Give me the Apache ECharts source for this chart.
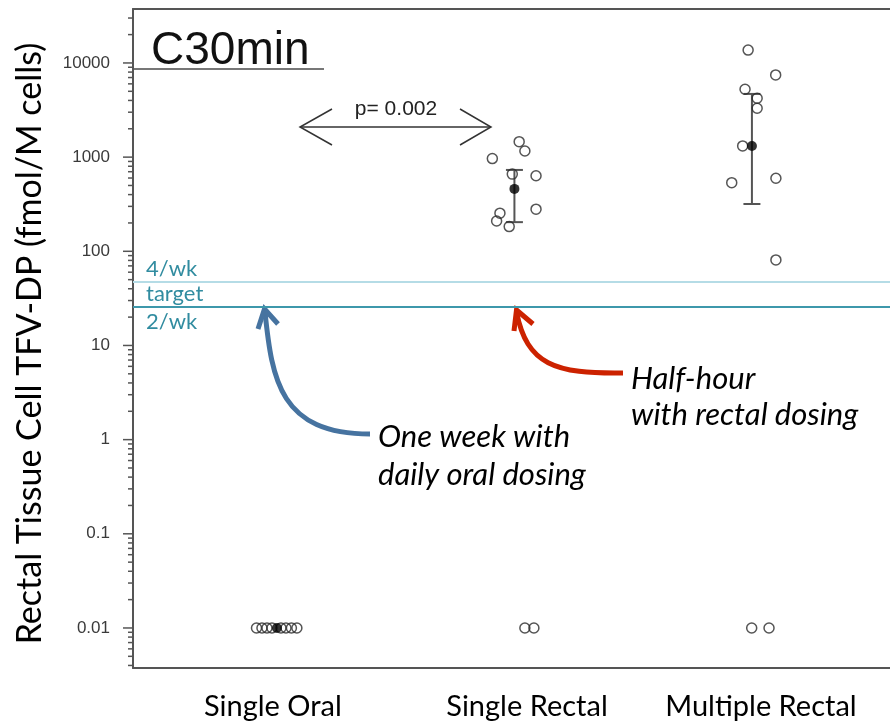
<!DOCTYPE html>
<html>
<head>
<meta charset="utf-8">
<script src="https://cdn.jsdelivr.net/npm/echarts@6/dist/echarts.min.js"></script>
<style>
html,body{margin:0;padding:0;background:#fff;overflow:hidden;}
#c{width:910px;height:724px;}
</style>
</head>
<body>
<div id="c"></div>
<script>
// ---------- data ----------
const categories = ['Single Oral', 'Single Rectal', 'Multiple Rectal'];
// horizontal jitter of each observation relative to its group (group index 1,2,3)
const singleOralJitter = [-0.086, -0.063, -0.042, -0.021, 0.017, 0.038, 0.061, 0.084];
const singleOralValues = [0.01, 0.01, 0.01, 0.01, 0.01, 0.01, 0.01, 0.01];
const singleRectalJitter = [0.020, 0.044, -0.093, -0.009, 0.091, 0.091, -0.061, -0.075, -0.022, 0.044, 0.082];
const singleRectalValues = [1460, 1160, 965, 660, 635, 280, 254, 210, 183, 0.01, 0.01];
const multipleRectalJitter = [-0.016, 0.100, -0.029, 0.022, 0.022, -0.039, -0.085, 0.101, 0.101, -0.001, 0.072];
const multipleRectalValues = [13700, 7470, 5260, 4220, 3300, 1315, 536, 597, 81, 0.01, 0.01];
const groupMeans = [0.01, 460, 1315];
const errLow = [null, 204, 318];
const errHigh = [null, 731, 4690];
const refLineValues = [47.7, 25.9];          // 4/wk, 2/wk (target)
const refLabels = ['4/wk', 'target', '2/wk'];
const yTickLabels = [0.01, 0.1, 1, 10, 100, 1000, 10000];
const pValueText = 'p= 0.002';

// ---------- layout constants ----------
const X_MIN = 0.394, X_MAX = 3.594;
const Y_MIN = 0.003758, Y_MAX = 37410;
const labelPositions = [0.983, 2.053, 3.038];
const AXIS_COLOR = '#555';

function groupPoints(g, jit, vals) {
  return vals.map((v, i) => [g + jit[i], v]);
}

// tick list for the log axis (major powers + minor 2..9 multiples)
const tickData = [];
for (let k = -3; k <= 4; k++) {
  for (let m = 1; m <= 9; m++) {
    const v = m * Math.pow(10, k);
    if (v >= Y_MIN && v <= Y_MAX) tickData.push([X_MIN, v, m === 1 ? 1 : 0]);
  }
}

function fmtPow(v) {
  const e = Math.log10(v);
  const r = Math.round(e);
  if (Math.abs(e - r) > 1e-6) return '';
  if (yTickLabels.indexOf(Number(Math.pow(10, r).toPrecision(6))) < 0) return '';
  if (r >= 0) return String(Math.pow(10, r));
  return '0.' + '0'.repeat(-r - 1) + '1';
}

const chart = echarts.init(document.getElementById('c'), null, {renderer: 'canvas'});

const openCircle = {
  type: 'scatter', symbol: 'circle', symbolSize: 10, z: 4,
  itemStyle: {color: 'rgba(0,0,0,0)', borderColor: '#2a2a2a', borderWidth: 1.5}
};

const option = {
  animation: false,
  backgroundColor: '#fff',
  grid: {left: 133, right: 17, top: 9, bottom: 56, containLabel: false, outerBoundsMode: 'none'},
  xAxis: [{
    type: 'value', min: X_MIN, max: X_MAX,
    axisLine: {show: true, onZero: false, lineStyle: {color: AXIS_COLOR, width: 2}},
    axisTick: {show: false}, splitLine: {show: false},
    axisLabel: {
      customValues: labelPositions,
      formatter: v => categories[Math.round(v) - 1],
      fontFamily: 'Lato', fontSize: 29, color: '#000', margin: 24
    }
  }, {
    type: 'value', position: 'top', min: X_MIN, max: X_MAX,
    axisLine: {show: true, onZero: false, lineStyle: {color: AXIS_COLOR, width: 2}},
    axisTick: {show: false}, axisLabel: {show: false}, splitLine: {show: false}
  }],
  yAxis: {
    type: 'log', logBase: 10, min: Y_MIN, max: Y_MAX, splitNumber: 7,
    axisLine: {show: true, onZero: false, lineStyle: {color: AXIS_COLOR, width: 2}},
    axisTick: {show: false}, minorTick: {show: false}, splitLine: {show: false},
    axisLabel: {formatter: fmtPow, fontFamily: 'Liberation Sans', fontSize: 17, color: '#3a3a3a', margin: 23,
      showMinLabel: false, showMaxLabel: false},
    name: 'Rectal Tissue Cell TFV-DP (fmol/M cells)', nameLocation: 'middle', nameGap: 86,
    nameTextStyle: {fontFamily: 'Lato', fontSize: 34, color: '#000', padding: [0, 10, 0, 0]}
  },
  title: {
    text: 'C30min', left: 146, top: 23,
    textStyle: {fontFamily: 'Liberation Sans', fontSize: 46, fontWeight: 'normal', color: '#111'}
  },
  series: [
    {
      type: 'scatter', data: [], silent: true,
      markLine: {
        silent: true, symbol: 'none', label: {show: false}, animation: false,
        data: [
          {yAxis: refLineValues[0], lineStyle: {color: '#b5dce6', width: 2, type: 'solid'}},
          {yAxis: refLineValues[1], lineStyle: {color: '#3d98ab', width: 2, type: 'solid'}}
        ]
      }
    },
    {
      type: 'custom', coordinateSystem: 'cartesian2d', clip: false, silent: true, z: 6,
      data: [[X_MIN, refLineValues[0]], [X_MIN, refLineValues[1]], [X_MIN, refLineValues[1]]],
      renderItem: (params, api) => {
        const p = api.coord([api.value(0), api.value(1)]);
        const i = params.dataIndex;
        const below = i === 2;
        return {
          type: 'text',
          style: {
            x: p[0] + 13, y: below ? p[1] + 4 : p[1] - 2,
            text: refLabels[i], fill: '#318ca0',
            font: '22px Lato', align: 'left', verticalAlign: below ? 'top' : 'bottom'
          }
        };
      }
    },
    {
      type: 'custom', coordinateSystem: 'cartesian2d', clip: false, silent: true, z: 6,
      data: tickData,
      renderItem: (params, api) => {
        const p = api.coord([api.value(0), api.value(1)]);
        const len = api.value(2) ? 10 : 5;
        return {type: 'line', shape: {x1: p[0] - len, y1: p[1], x2: p[0], y2: p[1]},
          style: {stroke: AXIS_COLOR, lineWidth: 1.5}};
      }
    },
    {
      type: 'custom', coordinateSystem: 'cartesian2d', silent: true, z: 3,
      data: [[2, errLow[1], errHigh[1]], [3, errLow[2], errHigh[2]]],
      renderItem: (params, api) => {
        const lo = api.coord([api.value(0), api.value(1)]);
        const hi = api.coord([api.value(0), api.value(2)]);
        const w = 8.5;
        const st = {stroke: '#555', lineWidth: 2};
        return {type: 'group', children: [
          {type: 'line', shape: {x1: lo[0], y1: lo[1], x2: hi[0], y2: hi[1]}, style: st},
          {type: 'line', shape: {x1: lo[0] - w, y1: lo[1], x2: lo[0] + w, y2: lo[1]}, style: st},
          {type: 'line', shape: {x1: hi[0] - w, y1: hi[1], x2: hi[0] + w, y2: hi[1]}, style: st}
        ]};
      }
    },
    Object.assign({}, openCircle, {name: categories[0], data: groupPoints(1, singleOralJitter, singleOralValues)}),
    Object.assign({}, openCircle, {name: categories[1], data: groupPoints(2, singleRectalJitter, singleRectalValues)}),
    Object.assign({}, openCircle, {name: categories[2], data: groupPoints(3, multipleRectalJitter, multipleRectalValues)}),
    {
      type: 'scatter', name: 'mean', symbol: 'circle', symbolSize: 10, z: 5,
      itemStyle: {color: '#000'},
      data: groupMeans.map((v, i) => [i + 1, v])
    }
  ],
  graphic: [
    {type: 'line', shape: {x1: 133, y1: 69, x2: 324, y2: 69}, style: {stroke: '#777', lineWidth: 2}},
    {type: 'line', shape: {x1: 300, y1: 127, x2: 491, y2: 127}, style: {stroke: '#333', lineWidth: 1.5}},
    {type: 'polyline', shape: {points: [[332, 109], [300, 127], [332, 145]]}, style: {stroke: '#333', lineWidth: 1.5, fill: null}},
    {type: 'polyline', shape: {points: [[460, 109], [491, 127], [460, 145]]}, style: {stroke: '#333', lineWidth: 1.5, fill: null}},
    {type: 'text', style: {x: 396, y: 109, text: pValueText, font: '21px "Liberation Sans"', fill: '#222', align: 'center', verticalAlign: 'middle'}},
    {type: 'bezierCurve', shape: {x1: 370, y1: 434, cpx1: 280, cpy1: 434, cpx2: 272, cpy2: 380, x2: 265, y2: 312},
      style: {stroke: '#4673a0', lineWidth: 5, fill: null}},
    {type: 'polyline', shape: {points: [[258, 329], [264.5, 309], [278, 324]]}, style: {stroke: '#4673a0', lineWidth: 5, fill: null}},
    {type: 'bezierCurve', shape: {x1: 623, y1: 373, cpx1: 555, cpy1: 374, cpx2: 527, cpy2: 365, x2: 516.5, y2: 312},
      style: {stroke: '#cc2200', lineWidth: 5, fill: null}},
    {type: 'polyline', shape: {points: [[514, 331], [516.5, 310], [533, 324]]}, style: {stroke: '#cc2200', lineWidth: 5, fill: null}},
    {type: 'text', style: {x: 378, y: 437, text: 'One week with', font: 'italic 31px Lato', fill: '#000', align: 'left', verticalAlign: 'middle'}},
    {type: 'text', style: {x: 378, y: 475, text: 'daily oral dosing', font: 'italic 31px Lato', fill: '#000', align: 'left', verticalAlign: 'middle'}},
    {type: 'text', style: {x: 631, y: 379, text: 'Half-hour', font: 'italic 31px Lato', fill: '#000', align: 'left', verticalAlign: 'middle'}},
    {type: 'text', style: {x: 631, y: 415, text: 'with rectal dosing', font: 'italic 31px Lato', fill: '#000', align: 'left', verticalAlign: 'middle'}}
  ]
};

chart.setOption(option);
</script>
</body>
</html>
